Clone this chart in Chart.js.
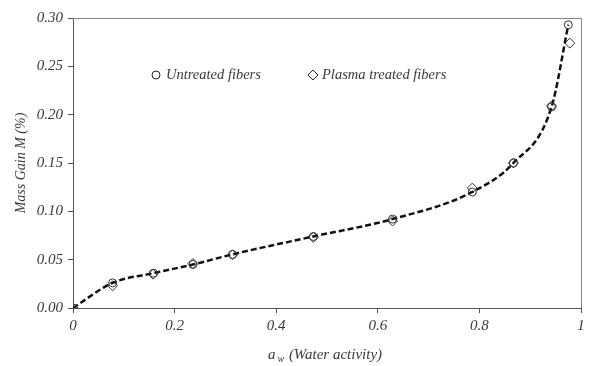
<!DOCTYPE html>
<html>
<head>
<meta charset="utf-8">
<script src="https://cdn.jsdelivr.net/npm/chart.js@4.4.0/dist/chart.umd.min.js"></script>
<style>
html,body{margin:0;padding:0;background:#fff;}
#wrap{width:590px;height:366px;}
</style>
</head>
<body>
<div id="wrap"><canvas id="sorption"></canvas></div>
<script>
/* data */
const awUntreated=[0,0.078,0.158,0.236,0.314,0.473,0.629,0.786,0.867,0.942,0.975];
const massUntreated=[0,0.026,0.036,0.045,0.0555,0.074,0.092,0.120,0.150,0.208,0.293];
const awPlasma=[0,0.078,0.158,0.236,0.314,0.473,0.629,0.786,0.867,0.942,0.978];
const massPlasma=[0,0.023,0.035,0.046,0.055,0.073,0.090,0.124,0.150,0.209,0.274];
const xTicks=[0,0.2,0.4,0.6,0.8,1];
const yTicks=[0,0.05,0.10,0.15,0.20,0.25,0.30];
const legendNames=["Untreated fibers","Plasma treated fibers"];

const serif='"Liberation Serif","DejaVu Serif",serif';
const ink="#3a3a3a";

function pts(xs,ys){return xs.map((x,i)=>({x:x,y:ys[i]}));}

/* legend inside the plot + x title with subscript */
const extras={
  id:"extras",
  afterDraw(chart){
    const c=chart.ctx;
    const a=chart.chartArea;
    c.save();
    c.fillStyle=ink;
    c.strokeStyle="#222";
    c.lineWidth=1;
    c.font="italic 14.5px "+serif;
    c.textBaseline="middle";
    const ly=a.top+57;
    // circle
    c.beginPath();c.arc(a.left+83,ly,4,0,Math.PI*2);c.fillStyle="#fff";c.fill();c.stroke();
    c.fillStyle=ink;
    c.fillText(legendNames[0],a.left+93,ly);
    // diamond
    const dx=a.left+240;
    c.beginPath();c.moveTo(dx,ly-5);c.lineTo(dx+5,ly);c.lineTo(dx,ly+5);c.lineTo(dx-5,ly);c.closePath();
    c.fillStyle="#fff";c.fill();c.stroke();
    c.fillStyle=ink;
    c.fillText(legendNames[1],dx+9,ly);
    // x title
    const ty=355;
    const main=" (Water activity)";
    c.font="italic 15px "+serif;
    const wa=c.measureText("a").width;
    const wm=c.measureText(main).width;
    c.font="italic 10px "+serif;
    const ww=c.measureText("w").width+3;
    let x=(a.left+a.right)/2-(wa+ww+wm)/2-2;
    c.textAlign="left";
    c.font="italic 15px "+serif;
    c.fillText("a",x,ty);
    c.font="italic 10px "+serif;
    c.fillText("w",x+wa+2,ty+4);
    c.font="italic 15px "+serif;
    c.fillText(main,x+wa+ww,ty);
    // top and right frame
    c.strokeStyle="#888";
    c.beginPath();
    c.moveTo(a.left,a.top+0.5);c.lineTo(a.right+0.5,a.top+0.5);c.lineTo(a.right+0.5,a.bottom);
    c.stroke();
    c.restore();
  }
};

new Chart(document.getElementById("sorption"),{
  type:"scatter",
  data:{
    datasets:[
      {
        label:legendNames[0],
        data:pts(awUntreated,massUntreated),
        showLine:true,
        borderColor:"#111",
        borderWidth:2.5,
        borderDash:[6,3],
        cubicInterpolationMode:"monotone",
        pointStyle:"circle",
        pointRadius:4,
        pointBorderWidth:1,
        pointBorderColor:"#333",
        pointBackgroundColor:"rgba(255,255,255,0)"
      },
      {
        label:legendNames[1],
        data:pts(awPlasma,massPlasma),
        showLine:false,
        pointStyle:"rectRot",
        pointRadius:5,
        pointBorderWidth:1,
        pointBorderColor:"#333",
        pointBackgroundColor:"rgba(255,255,255,0)"
      }
    ]
  },
  options:{
    responsive:true,
    maintainAspectRatio:false,
    animation:false,
    layout:{padding:{top:18,right:9,left:13,bottom:0}},
    plugins:{legend:{display:false},tooltip:{enabled:false}},
    scales:{
      x:{
        type:"linear",min:0,max:1,
        afterBuildTicks(s){s.ticks=xTicks.map(v=>({value:v}));},
        afterFit(s){s.height=58;},
        grid:{drawOnChartArea:false,drawTicks:true,tickLength:5,color:"#555"},
        border:{color:"#555",width:1},
        ticks:{color:ink,font:{family:serif,style:"italic",size:15},padding:4,
          callback:v=>String(v)}
      },
      y:{
        type:"linear",min:0,max:0.30,
        afterBuildTicks(s){s.ticks=yTicks.map(v=>({value:v}));},
        afterFit(s){s.width=60;},
        grid:{drawOnChartArea:false,drawTicks:true,tickLength:5,color:"#555"},
        border:{color:"#555",width:1},
        title:{display:true,text:"Mass Gain M (%)",color:ink,font:{family:serif,style:"italic",size:14},padding:{top:0,bottom:4}},
        ticks:{color:ink,font:{family:serif,style:"italic",size:15},padding:5,
          callback:v=>v.toFixed(2)}
      }
    }
  },
  plugins:[extras]
});
</script>
</body>
</html>
